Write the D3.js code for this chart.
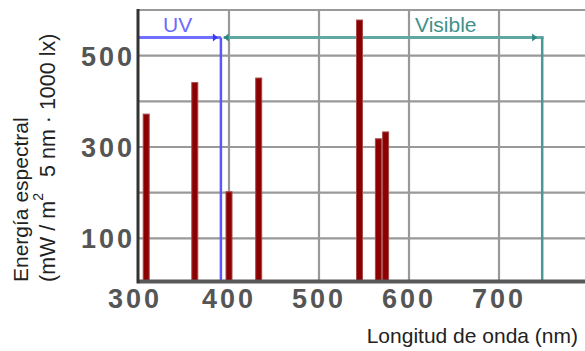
<!DOCTYPE html>
<html>
<head>
<meta charset="utf-8">
<script src="https://cdn.jsdelivr.net/npm/d3@7"></script>
<style>
  body { margin: 0; background: #fff; }
  svg { display: block; }
</style>
</head>
<body>
<div id="chart"></div>
<script>
// data
var wavelengths = [308, 362, 400, 433, 545, 566, 574];
var energy = [372, 441, 202, 451, 578, 318, 333];
var xTicks = [300, 400, 500, 600, 700];
var xGrid = [400, 500, 600, 700];
var yTicks = [100, 300, 500];
var yGrid = [100, 200, 300, 400, 500];
var bandNames = ["UV", "Visible"];
var bandStart = [300, 394];
var bandEnd = [391, 748];

var W = 585, H = 351;
var svg = d3.select("#chart")
  .append("svg")
  .attr("width", W)
  .attr("height", H);

var x = d3.scaleLinear().domain([300, 800]).range([139, 589]);
var y = d3.scaleLinear().domain([0, 600]).range([284, 10]);
var base = y(0) - 2.6;
var arrowY = 37.5;

// grid
svg.append("g").selectAll("line.h")
  .data(yGrid).join("line")
  .attr("x1", x(300)).attr("x2", W)
  .attr("y1", d => y(d)).attr("y2", d => y(d))
  .attr("stroke", "#999").attr("stroke-width", 2.2);
svg.append("g").selectAll("line.v")
  .data(xGrid).join("line")
  .attr("x1", d => x(d)).attr("x2", d => x(d))
  .attr("y1", y(600)).attr("y2", base)
  .attr("stroke", "#999").attr("stroke-width", 2.2);
// top border
svg.append("line")
  .attr("x1", x(300)).attr("x2", W)
  .attr("y1", y(600)).attr("y2", y(600))
  .attr("stroke", "#999").attr("stroke-width", 2.2);

// bands (UV / Visible)
var bandColor = ["#7070ff", "#5fa8a3"];
var bandDark = ["#3a3af0", "#2f8580"];
var bandText = ["#6a6aff", "#3f918c"];

// UV
svg.append("line")
  .attr("x1", x(bandStart[0]) - 1).attr("x2", x(bandEnd[0]))
  .attr("y1", arrowY).attr("y2", arrowY)
  .attr("stroke", bandColor[0]).attr("stroke-width", 3);
svg.append("line")
  .attr("x1", x(bandEnd[0])).attr("x2", x(bandEnd[0]))
  .attr("y1", arrowY).attr("y2", base)
  .attr("stroke", "#5858ff").attr("stroke-width", 2.5);
svg.append("path")
  .attr("d", "M" + (x(bandEnd[0]) - 3) + "," + arrowY + "l-5,-4v8z")
  .attr("fill", bandDark[0]);

// Visible
svg.append("line")
  .attr("x1", x(bandStart[1])).attr("x2", x(bandEnd[1]) + 1.5)
  .attr("y1", arrowY).attr("y2", arrowY)
  .attr("stroke", bandColor[1]).attr("stroke-width", 3);
svg.append("line")
  .attr("x1", x(bandEnd[1])).attr("x2", x(bandEnd[1]))
  .attr("y1", arrowY).attr("y2", base)
  .attr("stroke", "#4a9994").attr("stroke-width", 2.5);
svg.append("path")
  .attr("d", "M" + x(bandStart[1]) + "," + arrowY + "l5,-4v8z")
  .attr("fill", bandDark[1]);
svg.append("path")
  .attr("d", "M" + (x(bandEnd[1]) - 5) + "," + arrowY + "l-5,-4v8z")
  .attr("fill", bandDark[1]);

svg.append("text")
  .attr("x", x(bandStart[0]) + 24).attr("y", 32)
  .attr("font-family", "Liberation Sans, Arial, sans-serif")
  .attr("font-size", 21)
  .attr("fill", bandText[0])
  .text(bandNames[0]);
svg.append("text")
  .attr("x", 415).attr("y", 32)
  .attr("font-family", "Liberation Sans, Arial, sans-serif")
  .attr("font-size", 21)
  .attr("fill", bandText[1])
  .text(bandNames[1]);

// bars
svg.append("g").selectAll("rect")
  .data(wavelengths).join("rect")
  .attr("x", d => x(d) - 3)
  .attr("width", 6)
  .attr("y", (d, i) => y(energy[i]))
  .attr("height", (d, i) => base - y(energy[i]))
  .attr("fill", "#8b0000")
  .attr("stroke", "#a84848")
  .attr("stroke-width", 1);

// axes lines
svg.append("line")
  .attr("x1", x(300)).attr("x2", W)
  .attr("y1", base).attr("y2", base)
  .attr("stroke", "#595959").attr("stroke-width", 4);
svg.append("line")
  .attr("x1", 138).attr("x2", 138)
  .attr("y1", y(600) - 1).attr("y2", base + 2)
  .attr("stroke", "#333").attr("stroke-width", 3);

// tick labels
var tickFont = "Liberation Sans Narrow, Arial Narrow, sans-serif";
svg.append("g").selectAll("text")
  .data(xTicks).join("text")
  .attr("x", (d, i) => x(d) + (i == 0 ? -4 : 0))
  .attr("y", 308)
  .attr("text-anchor", "middle")
  .attr("font-family", tickFont)
  .attr("font-weight", "bold")
  .attr("font-size", 27)
  .attr("letter-spacing", 3)
  .attr("fill", "#555")
  .text(d => d);
svg.append("g").selectAll("text")
  .data(yTicks).join("text")
  .attr("x", 135)
  .attr("y", d => y(d) + 10)
  .attr("text-anchor", "end")
  .attr("font-family", tickFont)
  .attr("font-weight", "bold")
  .attr("font-size", 27)
  .attr("letter-spacing", 3)
  .attr("fill", "#555")
  .text(d => d);

// axis titles
svg.append("text")
  .attr("x", 578).attr("y", 343)
  .attr("text-anchor", "end")
  .attr("font-family", "Liberation Sans, Arial, sans-serif")
  .attr("font-size", 21)
  .attr("fill", "#222")
  .text("Longitud de onda (nm)");

svg.append("text")
  .attr("transform", "translate(28,282)rotate(-90)")
  .attr("font-family", "Liberation Sans, Arial, sans-serif")
  .attr("font-size", 21)
  .attr("fill", "#222")
  .text("Energía espectral");
var yt2 = svg.append("text")
  .attr("transform", "translate(55,282)rotate(-90)")
  .attr("font-family", "Liberation Sans, Arial, sans-serif")
  .attr("font-size", 21.5)
  .attr("fill", "#222");
yt2.append("tspan").text("(mW / m");
yt2.append("tspan").attr("dy", -12).attr("font-size", 14).text("2");
yt2.append("tspan").attr("dy", 12).attr("dx", 16).text("5 nm · 1000 lx)");
</script>
</body>
</html>
